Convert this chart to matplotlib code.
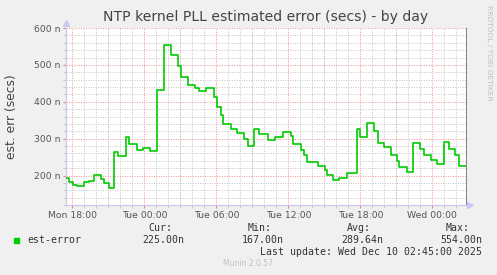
import matplotlib
matplotlib.use('Agg')
import matplotlib.pyplot as plt
from matplotlib.ticker import MultipleLocator, FixedLocator

# hours relative to Mon 18:00, value (nano secs) holds until next change
times = [-0.52, -0.25, 0.03, 0.36, 0.97, 1.42, 1.83, 2.36, 2.67, 3.08, 3.5, 3.83,
         4.44, 4.75, 5.39, 5.92, 6.5, 7.08, 7.67, 8.22, 8.83, 9.06, 9.67, 10.22,
         10.58, 11.14, 11.8, 12.03, 12.39, 12.58, 13.19, 13.75, 14.33, 14.67, 15.17,
         15.56, 16.33, 16.92, 17.58, 18.19, 18.42, 19.03, 19.31, 19.58, 20.5, 21.06,
         21.25, 21.69, 22.25, 22.86, 23.7, 23.97, 24.58, 25.17, 25.44, 26.0, 26.53,
         27.03, 27.25, 27.86, 28.42, 28.97, 29.33, 29.86, 30.42, 31.0, 31.42, 31.89,
         32.22, 32.8]
values = [193, 182, 175, 172, 182, 184, 201, 191, 179, 167, 265, 253,
          304, 286, 270, 274, 267, 432, 554, 528, 498, 467, 446, 437,
          430, 437, 413, 387, 365, 340, 327, 315, 299, 281, 326,
          313, 297, 304, 318, 306, 286, 270, 256, 236, 226, 214,
          202, 188, 193, 206, 326, 304, 342, 321, 289, 277, 256,
          238, 224, 209, 287, 272, 256, 241, 231, 290, 272, 256,
          225, 225]

tick_hours = [0, 6, 12, 18, 24, 30]
tick_labels = ['Mon 18:00', 'Tue 00:00', 'Tue 06:00', 'Tue 12:00', 'Tue 18:00', 'Wed 00:00']
y_ticks = [200, 300, 400, 500, 600]

bg = '#F0F0F0'
fig = plt.figure(figsize=(4.97, 2.75), dpi=100, facecolor=bg)
ax = fig.add_axes([66/497, 1-205/275, 400/497, 177/275])
ax.set_facecolor('white')

ax.plot(times, values, color='#00CC00', lw=1.2, drawstyle='steps-post', zorder=5)

ax.set_xlim(-0.525, 32.81)
ax.set_ylim(120, 600)

# grid
ax.xaxis.set_major_locator(FixedLocator(tick_hours))
ax.xaxis.set_minor_locator(MultipleLocator(1))
ax.yaxis.set_major_locator(FixedLocator(y_ticks))
ax.yaxis.set_minor_locator(MultipleLocator(20))
ax.grid(which='minor', color='#C4C4C4', ls=(0, (1, 1.5)), lw=0.7)
ax.grid(which='major', color='#F09090', ls=(0, (1, 1.5)), lw=0.7)
ax.set_axisbelow(True)
ax.set_xticklabels(tick_labels)
# extra red grid lines on 3h marks between labels
for h in [3, 9, 15, 21, 27]:
    ax.axvline(h, color='#F09090', ls=(0, (1, 1.5)), lw=0.7, zorder=0)
ax.set_yticklabels([f'{v} n' for v in y_ticks])

ax.tick_params(which='both', length=2, color='#F08080', labelsize=6.7,
               labelcolor='#555555', pad=2)
ax.tick_params(which='minor', color='#C0C0C0')

ax.spines['top'].set_visible(False)
ax.spines['right'].set_color('#888888')
ax.spines['left'].set_color('#C8C8F0')
ax.spines['bottom'].set_color('#C8C8F0')

# axis arrows
ax.plot([1.01], [0], marker='>', color='#C8C8F0', ms=4, transform=ax.transAxes, clip_on=False)
ax.plot([0], [1.03], marker='^', color='#C8C8F0', ms=4, transform=ax.transAxes, clip_on=False)

fig.text(0.535, 1-17/275, 'NTP kernel PLL estimated error (secs) - by day',
         ha='center', va='center', fontsize=10.1, color='#444444')
fig.text(12/497, 1-117/275, 'est. err (secs)', rotation=90, ha='center', va='center',
         fontsize=8.8, color='#444444')
fig.text(489/497, 1-5/275, 'RRDTOOL / TOBI OETIKER', rotation=270, ha='center', va='top',
         fontsize=5.4, color='#C0C0C0')

# legend
mono = 'DejaVu Sans Mono'
lc = '#333333'
fig.patches.append(plt.Rectangle((14/497, 1-243/275), 5/497, 5/275, color='#00CC00',
                                 transform=fig.transFigure, figure=fig))
fig.text(27/497, 1-240/275, 'est-error', family=mono, fontsize=7.1, color=lc, va='center')
stats = [('Cur:', '225.00n', 184), ('Min:', '167.00n', 284),
         ('Avg:', '289.64n', 383), ('Max:', '554.00n', 482)]
for head, val, xr in stats:
    fig.text((xr-12)/497, 1-228/275, head, family=mono, fontsize=7.1, color=lc,
             ha='right', va='center')
    fig.text(xr/497, 1-240/275, val, family=mono, fontsize=7.1, color=lc,
             ha='right', va='center')
fig.text(482/497, 1-252/275, 'Last update: Wed Dec 10 02:45:00 2025', family=mono,
         fontsize=7.1, color=lc, ha='right', va='center')
fig.text(248/497, 1-263/275, 'Munin 2.0.57', fontsize=5.5, color='#C0C0C0',
         ha='center', va='center')

fig.savefig('out.png', dpi=100, facecolor=bg)
